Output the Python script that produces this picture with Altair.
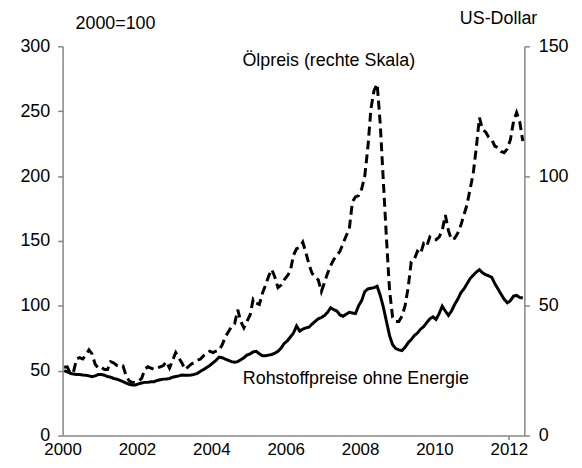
import altair as alt
import pandas as pd

# Monthly data, Jan 2000 .. May 2012 (149 months)
commodity_idx = [
    # 2000
    50, 49, 48, 47.4, 47, 47, 46.7, 46.5, 46, 45.4, 46, 47,
    # 2001
    47, 46.5, 45.5, 45, 44, 43.5, 42.5, 41.5, 40.5, 39.5, 39, 39,
    # 2002
    39.8, 40.5, 41, 41, 41.5, 41.5, 42.5, 43, 43.5, 43.6, 44, 45,
    # 2003
    45.5, 46, 46.7, 46.5, 46.5, 46.7, 47.2, 48, 49.5, 51, 52.5, 54,
    # 2004
    56, 58, 60.5, 60, 59, 58, 57, 56.5, 57, 58.5, 60, 62,
    # 2005
    63, 64.5, 65, 63, 61.5, 61.5, 62, 62.5, 63.5, 65, 67.5, 71,
    # 2006
    73, 76, 79, 84.5, 80.5, 82, 83, 83.5, 86, 88, 90, 91,
    # 2007
    92.5, 95, 98.5, 97, 96, 93, 92, 93.5, 95, 94.5, 94, 100,
    # 2008
    104, 111, 113, 113.5, 114, 115, 108, 99, 88, 77, 70, 67,
    # 2009
    66, 65.5, 68, 71.5, 74, 77, 79, 82, 84, 87, 90, 91.5,
    # 2010
    89.5, 94, 99.7, 96, 92.6, 96, 101, 105, 110, 113, 117, 121,
    # 2011
    123.5, 126, 127.8, 125.5, 124, 123, 122, 117, 113, 109, 105, 102.3,
    # 2012
    104, 107.5, 108, 106.5, 106,
]

oil_usd = [
    # 2000
    26.3, 26.5, 24, 24.5, 29.5, 30, 29.5, 31, 33, 31.5, 27.5, 26,
    # 2001
    26.3, 25.5, 25.5, 28.5, 28, 27, 26.5, 26.8, 23, 21, 20.5, 20.5,
    # 2002
    21, 22, 25.5, 26.5, 26, 25.5, 26, 26.5, 27, 28.5, 26, 29,
    # 2003
    32, 30, 28, 25.5, 26.5, 27.5, 28.2, 29, 29.5, 30.8, 31.5, 32.5,
    # 2004
    32, 32.5, 33, 35, 38, 40, 42, 43, 48.5, 44, 41.5, 44,
    # 2005
    46.5, 52.5, 51, 50.5, 55, 58, 61.5, 64, 61, 57, 58, 60,
    # 2006
    61.5, 63.5, 69.5, 72, 72.5, 74.5, 70.5, 66, 62.5, 61, 60, 55.5,
    # 2007
    59, 62.5, 65.5, 67.8, 69.5, 71, 74, 77, 79.5, 90, 92, 92.5,
    # 2008
    95, 100, 111, 126, 133, 135.5, 120, 98, 76, 56, 45.5, 44,
    # 2009
    44, 46, 50, 57, 67, 68, 71, 70, 74, 73, 76.5, 75.5,
    # 2010
    75.5, 76.5, 79, 85, 79, 75.5, 76, 78, 81, 85, 89, 95,
    # 2011
    101, 111, 122.5, 118, 117, 115, 114, 111.5, 111, 109.5, 109, 110.5,
    # 2012
    114, 121, 124.5, 121, 113.5,
]

n_months = len(oil_usd)
t_vals = [2000 + (m + 0.5) / 12 for m in range(n_months)]

df_c = pd.DataFrame({"t": t_vals, "v": commodity_idx})
df_o = pd.DataFrame({"t": t_vals, "v": oil_usd})

x_domain = [2000, 2000 + n_months / 12]
x_values = [2000 + k * 0.5 for k in range(25)]
left_ticks = [0, 50, 100, 150, 200, 250, 300]
right_ticks = [0, 50, 100, 150]

FONT = "Liberation Sans, Arial, sans-serif"
AX = "#868686"
FS = 18

x_enc = alt.X(
    "t:Q",
    scale=alt.Scale(domain=x_domain, nice=False, zero=False),
    axis=alt.Axis(
        values=x_values,
        format="d",
        labelExpr="datum.value % 2 == 0 ? datum.label : ''",
        labelOverlap=False,
        labelFlush=False,
        tickOpacity={"condition": {"test": "datum.value % 1 != 0 || datum.value == 2012", "value": 1}, "value": 0},
        tickSize=4,
        labelFontSize=17,
        labelBaseline="alphabetic",
        labelPadding=15,
        grid=False,
        title=None,
        domainColor=AX,
        tickColor=AX,
        domainWidth=1.5,
        tickWidth=1.5,
    ),
)

solid = alt.Chart(df_c).mark_line(color="black", strokeWidth=3).encode(
    x=x_enc,
    y=alt.Y(
        "v:Q",
        scale=alt.Scale(domain=[0, 300], nice=False),
        axis=alt.Axis(
            orient="left",
            values=left_ticks,
            tickSize=5,
            labelPadding=8,
            grid=False,
            title=None,
            domainColor=AX,
            tickColor=AX,
            domainWidth=1.5,
            tickWidth=1.5,
        ),
    ),
)

dashed = alt.Chart(df_o).mark_line(color="black", strokeWidth=3, strokeDash=[9, 5]).encode(
    x=x_enc,
    y=alt.Y(
        "v:Q",
        scale=alt.Scale(domain=[0, 150], nice=False),
        axis=alt.Axis(
            orient="right",
            values=right_ticks,
            tickSize=5,
            labelPadding=9,
            grid=False,
            title=None,
            domainColor=AX,
            tickColor=AX,
            domainWidth=1.5,
            tickWidth=1.5,
        ),
    ),
)

def label(text, px, py, align="left"):
    return alt.Chart(pd.DataFrame({"s": [text]})).mark_text(
        align=align, baseline="middle", fontSize=FS, font=FONT, color="black"
    ).encode(x=alt.value(px), y=alt.value(py), text="s:N")

t1 = label("2000=100", 13, -22)
t2 = label("US-Dollar", 478, -27, align="right")
t3 = label("Ölpreis (rechte Skala)", 268, 15, align="center")
t4 = label("Rohstoffpreise ohne Energie", 181.5, 335)

chart = alt.layer(solid, dashed, t1, t2, t3, t4).resolve_scale(y="independent").properties(
    width=465,
    height=392,
    padding={"left": 55, "top": 37, "right": 50, "bottom": 23},
    autosize=alt.AutoSizeParams(type="none"),
    background="white",
).configure_view(stroke=None).configure_axis(
    labelFont=FONT, labelFontSize=FS, labelColor="black"
)

chart.save("out.html", embed_options={"renderer": "svg", "actions": False})
